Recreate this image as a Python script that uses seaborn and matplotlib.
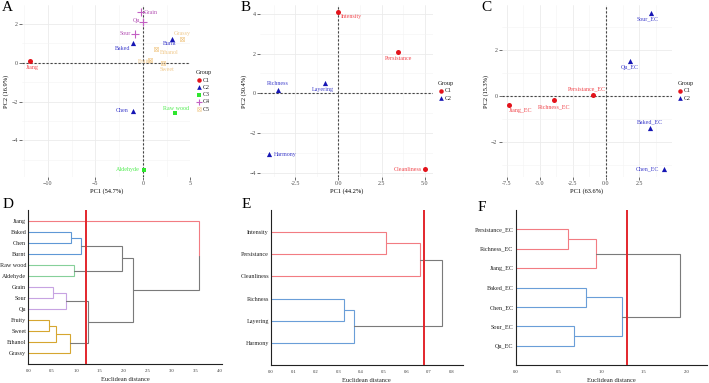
import numpy as np
import pandas as pd
import matplotlib
matplotlib.use("Agg")
import matplotlib.pyplot as plt
import seaborn as sns
from collections import Counter

sns.set_theme(style="white")
plt.rcParams['font.family'] = ['Liberation Serif', 'DejaVu Serif']
plt.rcParams['mathtext.fontset'] = 'dejavusans'

# ---------------- Panel A data ----------------
a_names = ["Jiang", "Baked", "Burnt", "Chen", "Raw wood", "Aldehyde", "Grain", "Qu", "Sour",
           "Grassy", "Ethanol", "Fruity", "Sweet"]
a_pc1 = [-11.9, -1.0, 3.1, -1.0, 3.4, 0.1, -0.2, 0.03, -0.8, 4.15, 1.4, 0.7, 2.1]
a_pc2 = [0.09, 1.03, 1.23, -2.46, -2.6, -5.5, 2.6, 2.1, 1.5, 1.23, 0.7, 0.15, -0.03]
a_group = ["C1", "C2", "C2", "C2", "C3", "C3", "C4", "C4", "C4", "C5", "C5", "C5", "C5"]
a_xlabel = "PC1 (54.7%)"
a_ylabel = "PC2 (16.9%)"

# ---------------- Panel B data ----------------
b_names = ["Intensity", "Persistance", "Cleanliness", "Richness", "Layering", "Harmony"]
b_pc1 = [0.0, 3.47, 5.0, -3.53, -0.78, -4.05]
b_pc2 = [4.08, 2.08, -3.83, 0.17, 0.5, -3.08]
b_group = ["C1", "C1", "C1", "C2", "C2", "C2"]
b_xlabel = "PC1 (44.2%)"
b_ylabel = "PC2 (30.4%)"

# ---------------- Panel C data ----------------
c_names = ["Sour_EC", "Qu_EC", "Persistance_EC", "Richness_EC", "Jiang_EC", "Baked_EC", "Chen_EC"]
c_pc1 = [3.4, 1.8, -1.0, -3.9, -7.3, 3.3, 4.4]
c_pc2 = [3.6, 1.5, 0.04, -0.2, -0.39, -1.39, -3.17]
c_group = ["C2", "C2", "C1", "C1", "C1", "C2", "C2"]
c_xlabel = "PC1 (63.6%)"
c_ylabel = "PC2 (15.3%)"

# ---------------- Dendrogram data ----------------
d_leaves = ["Jiang", "Baked", "Chen", "Burnt", "Raw wood", "Aldehyde", "Grain", "Sour", "Qu",
            "Fruity", "Sweet", "Ethanol", "Grassy"]
d_clusters = [1, 2, 2, 2, 3, 3, 4, 4, 4, 5, 5, 5, 5]
d_merge_a = [1, 13, 4, 6, 16, 9, 18, 19, 17, 14, 22, 0]
d_merge_b = [2, 3, 5, 7, 8, 10, 11, 12, 20, 15, 21, 23]
d_merge_h = [0.89, 1.10, 0.96, 0.52, 0.79, 0.43, 0.57, 0.87, 1.24, 1.97, 2.20, 3.57]
d_cut = 1.21

e_leaves = ["Intensity", "Persistance", "Cleanliness", "Richness", "Layering", "Harmony"]
e_clusters = [1, 1, 1, 2, 2, 2]
e_merge_a = [0, 6, 3, 8, 7]
e_merge_b = [1, 2, 4, 5, 9]
e_merge_h = [0.508, 0.662, 0.325, 0.368, 0.758]
e_cut = 0.679

f_leaves = ["Persistance_EC", "Richness_EC", "Jiang_EC", "Baked_EC", "Chen_EC", "Sour_EC", "Qu_EC"]
f_clusters = [1, 1, 1, 2, 2, 2, 2]
f_merge_a = [0, 7, 3, 5, 9, 8]
f_merge_b = [1, 2, 4, 6, 10, 11]
f_merge_h = [0.615, 0.94, 0.826, 0.686, 1.247, 1.92]
f_cut = 1.30

# ---------------- styles ----------------
pt_color = {"C1": "#E3131B", "C2": "#1616B4", "C3": "#2EE62E", "C4": "#C35FC3", "C5": "#F0C684"}
lab_color = {"C1": "#F0474D", "C2": "#3F3FCC", "C3": "#50EC50", "C4": "#B452B4", "C5": "#F0C98C"}
markers = {"C1": "o", "C2": "^", "C3": "s", "C4": "+", "C5": r"$\boxtimes$"}
msize = {"C1": 13, "C2": 14, "C3": 11, "C4": 26, "C5": 12}

PX = 0.72  # points per pixel at dpi 100
a_off = {"Jiang": (3, 7), "Baked": (-11, 6), "Burnt": (-3, 5), "Chen": (-11, 0), "Raw wood": (1, -5),
         "Aldehyde": (-16, 0), "Grain": (10, 0), "Qu": (-7, -1.5), "Sour": (-10, 0), "Grassy": (0, -5),
         "Ethanol": (13, 3), "Fruity": (-4, 1.5), "Sweet": (4, 6)}
b_off = {"Intensity": (13, 4.5), "Persistance": (0, 6), "Cleanliness": (-17, 0), "Richness": (0, -6),
         "Layering": (-2, 6), "Harmony": (17, 0)}
c_off = {"Sour_EC": (-3, 6), "Qu_EC": (0, 6), "Persistance_EC": (-6, -6), "Richness_EC": (0, 6),
         "Jiang_EC": (11, 6), "Baked_EC": (0, -6), "Chen_EC": (-17, 0)}

W, H = 709, 383
fig = plt.figure(figsize=(W / 100, H / 100), dpi=100)
fig.patch.set_facecolor("white")


def fax(l, t, r, b):
    return fig.add_axes([l / W, 1 - b / H, (r - l) / W, (b - t) / H])


def pca_panel(ax, names, x, y, groups, offs, xlim, ylim, xt, yt, xmin, ymin, xlabel, ylabel):
    df = pd.DataFrame({"name": names, "pc1": x, "pc2": y, "group": groups})
    ax.set_xlim(*xlim)
    ax.set_ylim(*ylim)
    ax.set_xticks(xt)
    ax.set_yticks(yt)
    ax.set_xticks(xmin, minor=True)
    ax.set_yticks(ymin, minor=True)
    ax.grid(True, which="major", color="#EBEBEB", lw=0.6)
    ax.grid(True, which="minor", color="#F3F3F3", lw=0.4)
    ax.set_axisbelow(True)
    for s in ax.spines.values():
        s.set_visible(False)
    ax.axhline(0, color="#444444", ls=(0, (2, 1.6)), lw=0.8, zorder=1)
    ax.axvline(0, color="#444444", ls=(0, (2, 1.6)), lw=0.8, zorder=1)
    for g in sorted(df.group.unique()):
        sub = df[df.group == g]
        kw = dict(marker=markers[g], s=msize[g], color=pt_color[g], ax=ax, label=g, legend=False, zorder=3)
        kw["linewidth"] = 0.8 if g == "C4" else 0
        sns.scatterplot(data=sub, x="pc1", y="pc2", **kw)
    for _, r in df.iterrows():
        dx, dy = offs[r["name"]]
        ax.annotate(r["name"], (r.pc1, r.pc2), xytext=(dx * PX, -dy * PX), textcoords="offset points",
                    ha="center", va="center", fontsize=4.3, color=lab_color[r.group], zorder=4)
    ax.set_xlabel(xlabel, fontsize=4.6, labelpad=1.5, color="black")
    ax.set_ylabel(ylabel, fontsize=4.6, labelpad=1.5, color="black")
    ax.tick_params(axis="both", which="major", labelsize=4.3, length=2, width=0.5, pad=1,
                   colors="#333333", labelcolor="#4D4D4D", left=True, bottom=True)
    ax.tick_params(axis="both", which="minor", length=0)
    ax.legend(title="Group", loc="center left", bbox_to_anchor=(1.0, 0.5), frameon=False,
              fontsize=4.3, title_fontsize=4.6, handletextpad=0.1, labelspacing=0.35,
              borderaxespad=0.5, handlelength=1.0, alignment="left", markerscale=0.9)


axA = fax(22, 5, 190.5, 177)
pca_panel(axA, a_names, a_pc1, a_pc2, a_group, a_off, (-12.7, 4.95), (-5.88, 2.97),
          [-10, -5, 0, 5], [-4, -2, 0, 2], [-12.5, -7.5, -2.5, 2.5], [-5, -3, -1, 1], a_xlabel, a_ylabel)

axB = fax(260, 5, 432.5, 177)
pca_panel(axB, b_names, b_pc1, b_pc2, b_group, b_off, (-4.55, 5.45), (-4.22, 4.45),
          [-2.5, 0, 2.5, 5.0], [-4, -2, 0, 2, 4], [-3.75, -1.25, 1.25, 3.75], [-3, -1, 1, 3], b_xlabel, b_ylabel)
axB.set_xticklabels(["-2.5", "0.0", "2.5", "5.0"])

axC = fax(501.5, 5, 672, 177)
pca_panel(axC, c_names, c_pc1, c_pc2, c_group, c_off, (-7.9, 4.99), (-3.51, 3.93),
          [-7.5, -5.0, -2.5, 0, 2.5], [-2, 0, 2], [-6.25, -3.75, -1.25, 1.25, 3.75], [-3, -1, 1, 3], c_xlabel, c_ylabel)
axC.set_xticklabels(["-7.5", "-5.0", "-2.5", "0.0", "2.5"])

# ---------------- dendrograms ----------------
d_colors = {1: "#F27C82", 2: "#5F98D6", 3: "#86D09A", 4: "#C7A3E2", 5: "#D6A630"}
e_colors = {1: "#F27C82", 2: "#6A9ED8"}
GREY = "#7A7A7A"


def dendro(ax, leaves, clusters, ma, mb, mh, colors, cut, xmax, xt, xminor):
    n = len(leaves)
    ypos = {i: float(i) for i in range(n)}
    hgt = {i: 0.0 for i in range(n)}
    mem = {i: {i} for i in range(n)}
    for k, (a, b, h) in enumerate(zip(ma, mb, mh)):
        node = n + k
        ypos[node] = (ypos[a] + ypos[b]) / 2
        hgt[node] = h
        mem[node] = mem[a] | mem[b]

    def ncl(node):
        cs = {clusters[i] for i in mem[node]}
        return cs.pop() if len(cs) == 1 else None

    csize = Counter(clusters)
    for k, (a, b, h) in enumerate(zip(ma, mb, mh)):
        node = n + k
        pc = ncl(node)
        for ch in (a, b):
            if pc is not None:
                col = colors[pc]
            elif ch < n and csize[clusters[ch]] == 1:
                col = colors[clusters[ch]]
            else:
                col = GREY
            ax.plot([h, h, hgt[ch]], [ypos[node], ypos[ch], ypos[ch]], color=col, lw=0.8,
                    solid_joinstyle="miter", zorder=2)
    ax.axvline(cut, color="#E3262C", lw=1.4, zorder=3)
    ax.set_xlim(0, xmax)
    ax.set_ylim(n, -1)
    ax.set_yticks(range(n))
    ax.set_yticklabels(leaves, fontsize=4.4, color="#222222")
    ax.set_xticks(xt)
    ax.set_xticklabels([f"{v:.1f}" for v in xt], fontsize=3.3, color="#333333")
    ax.set_xticks(xminor, minor=True)
    ax.tick_params(axis="y", length=0, pad=1.5)
    ax.tick_params(axis="x", which="major", length=2, width=0.5, pad=1.5, direction="out")
    ax.tick_params(axis="x", which="minor", length=1.2, width=0.5, direction="out")
    ax.grid(False)
    for s in ["top", "right"]:
        ax.spines[s].set_visible(False)
    for s in ["left", "bottom"]:
        ax.spines[s].set_color("#222222")
        ax.spines[s].set_linewidth(0.8)
    ax.set_xlabel("Euclidean distance", fontsize=4.6, labelpad=3, color="#222222")


axD = fax(28.3, 210, 221.7, 364)
dendro(axD, d_leaves, d_clusters, d_merge_a, d_merge_b, d_merge_h, d_colors, d_cut, 4.05,
       np.arange(0, 4.01, 0.5), np.arange(0.25, 4.0, 0.5))

axE = fax(271, 210, 462.7, 365)
dendro(axE, e_leaves, e_clusters, e_merge_a, e_merge_b, e_merge_h, e_colors, e_cut, 0.85,
       np.arange(0, 0.81, 0.1), np.arange(0.05, 0.85, 0.1))

axF = fax(515.7, 210, 707, 365)
dendro(axF, f_leaves, f_clusters, f_merge_a, f_merge_b, f_merge_h, e_colors, f_cut, 2.24,
       np.arange(0, 2.01, 0.5), np.arange(0.25, 2.24, 0.25))

# panel letters
for letter, x, y in [("A", 2, 1), ("B", 241, 1), ("C", 481, 1), ("D", 3, 198), ("E", 242, 198), ("F", 478, 201)]:
    fig.text(x / W, 1 - y / H, letter, fontsize=11, va="top", ha="left", color="black")

fig.savefig("out.png", dpi=100, facecolor="white")
